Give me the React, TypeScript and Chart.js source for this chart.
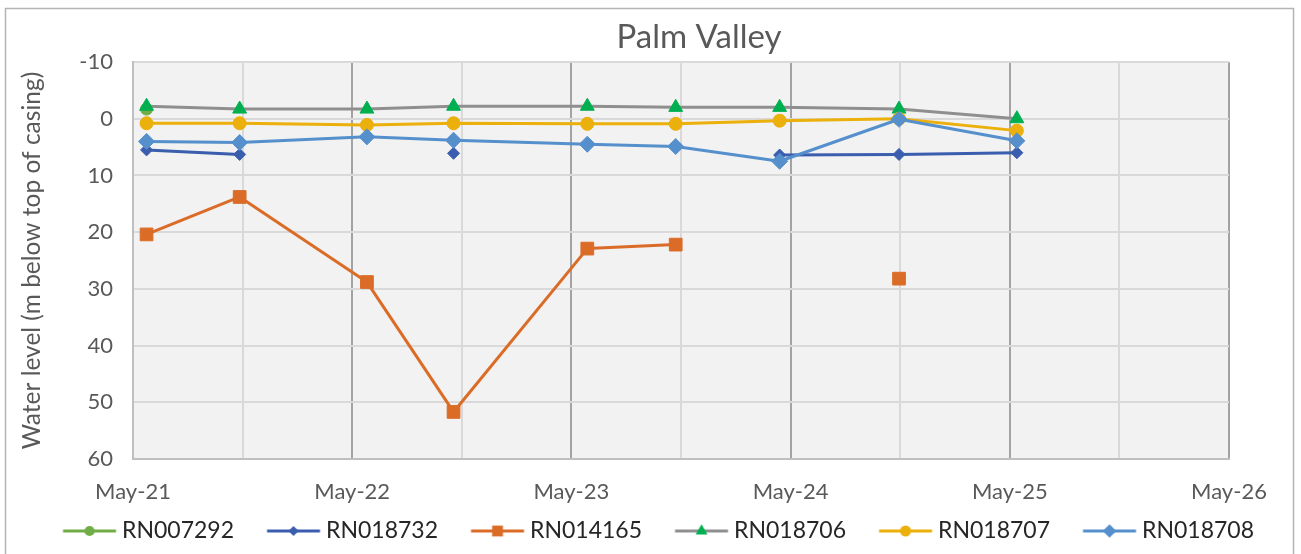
import React, { useEffect, useRef } from 'react';
import { Chart, registerables } from 'chart.js';

Chart.register(...registerables);
Chart.defaults.font.family = 'Lato, "Open Sans", sans-serif';

// ---- data ----
const sampleDates = [
  '2021-05-24', '2021-10-27', '2022-05-26', '2022-10-18', '2023-05-28',
  '2023-10-23', '2024-04-13', '2024-10-30', '2025-05-13',
];
const RN007292: (number | null)[] = [-1.7, null, null, null, null, null, null, null, null];
const RN018732: (number | null)[] = [5.5, 6.3, null, 6.1, null, null, 6.4, 6.3, 6.0];
const RN014165: (number | null)[] = [20.4, 13.8, 28.8, 51.7, 22.9, 22.2, null, 28.2, null];
const RN018706: (number | null)[] = [-2.2, -1.7, -1.7, -2.2, -2.2, -2.0, -2.0, -1.7, 0.0];
const RN018707: (number | null)[] = [0.8, 0.8, 1.1, 0.8, 0.9, 0.9, 0.35, 0.0, 2.1];
const RN018708: (number | null)[] = [4.0, 4.2, 3.2, 3.8, 4.5, 4.9, 7.5, 0.1, 3.9];
const xTickLabels = ['May-21', 'May-22', 'May-23', 'May-24', 'May-25', 'May-26'];
const yMin = -10;
const yMax = 60;
const yStep = 10;

// months since 1 May 2021 (start of the axis)
function toMonths(iso: string): number {
  const [y, m, d] = iso.split('-').map(Number);
  const dim = new Date(y, m, 0).getDate();
  return (y - 2021) * 12 + (m - 5) + (d - 1) / dim;
}
const sampleX = sampleDates.map(toMonths);

type Series = { label: string; values: (number | null)[]; line: string; marker: string; style: string; r: number };
const seriesList: Series[] = [
  { label: 'RN007292', values: RN007292, line: '#70AD47', marker: '#70AD47', style: 'circle', r: 6 },
  { label: 'RN018732', values: RN018732, line: '#3A5DAE', marker: '#3A5DAE', style: 'rectRot', r: 6 },
  { label: 'RN014165', values: RN014165, line: '#DB6C27', marker: '#DB6C27', style: 'rect', r: 9 },
  { label: 'RN018706', values: RN018706, line: '#8F8F8F', marker: '#00B050', style: 'triangle', r: 8 },
  { label: 'RN018707', values: RN018707, line: '#EBB00B', marker: '#EBB00B', style: 'circle', r: 6.5 },
  { label: 'RN018708', values: RN018708, line: '#5590CD', marker: '#5590CD', style: 'rectRot', r: 8 },
];

// ---- layout constants ----
const W = 1301;
const H = 554;
const TITLE_CX = 699;
const LEG_FONT = 23;
const LEG_PAD = 10;
const LEG_STRIDE = 204;
const LEG_LINE = 53;
const LEG_GAP = 6;
const LEG_FIRST_X = 63;
const LEG_CY = 531;

function drawMarker(g: CanvasRenderingContext2D, cx: number, cy: number, style: string, r: number, color: string) {
  g.fillStyle = color;
  g.beginPath();
  if (style === 'circle') {
    g.arc(cx, cy, r, 0, Math.PI * 2);
  } else if (style === 'rect') {
    const s = r * Math.SQRT1_2;
    g.rect(cx - s, cy - s, 2 * s, 2 * s);
  } else if (style === 'rectRot') {
    g.moveTo(cx, cy - r);
    g.lineTo(cx + r, cy);
    g.lineTo(cx, cy + r);
    g.lineTo(cx - r, cy);
    g.closePath();
  } else if (style === 'triangle') {
    g.moveTo(cx, cy - r);
    g.lineTo(cx + r * Math.sin((2 * Math.PI) / 3), cy + r / 2);
    g.lineTo(cx - r * Math.sin((2 * Math.PI) / 3), cy + r / 2);
    g.closePath();
  }
  g.fill();
}

function buildLegendImages(B: number) {
  const lineStartRel = B + LEG_FONT / 2 - LEG_GAP - LEG_LINE;
  const lineEndRel = lineStartRel + LEG_LINE;
  const half = Math.max(Math.abs(lineEndRel - B / 2), Math.abs(lineStartRel - B / 2)) + 2;
  const w = Math.ceil(half) * 2;
  return seriesList.map((s) => {
    const c = document.createElement('canvas');
    c.width = w;
    c.height = 22;
    const g = c.getContext('2d')!;
    const x0 = lineStartRel - B / 2 + w / 2;
    g.strokeStyle = s.line;
    g.lineWidth = 3;
    g.beginPath();
    g.moveTo(x0, 11);
    g.lineTo(x0 + LEG_LINE, 11);
    g.stroke();
    drawMarker(g, x0 + LEG_LINE / 2, 11, s.style, s.r * 0.85, s.marker);
    return c;
  });
}

export default function App() {
  const ref = useRef<HTMLCanvasElement>(null);

  useEffect(() => {
    const canvas = ref.current!;
    const mc = document.createElement('canvas').getContext('2d')!;
    mc.font = `${LEG_FONT}px Lato, "Open Sans", sans-serif`;
    const textW = mc.measureText(seriesList[0].label).width;
    const B = LEG_STRIDE - LEG_FONT / 2 - textW - LEG_PAD;
    const legendImages = buildLegendImages(B);

    const bgPlugin = {
      id: 'bgPlugin',
      beforeDraw(chart: any) {
        const { ctx, chartArea } = chart;
        ctx.save();
        ctx.fillStyle = '#FFFFFF';
        ctx.fillRect(0, 0, W, H);
        ctx.strokeStyle = '#B4B4B4';
        ctx.lineWidth = 1.5;
        ctx.strokeRect(5.5, 8.5, 1288, H + 10);
        ctx.fillStyle = '#F2F2F2';
        ctx.fillRect(chartArea.left, chartArea.top, chartArea.right - chartArea.left, chartArea.bottom - chartArea.top);
        ctx.restore();
      },
    };

    const shiftPlugin = {
      id: 'shiftPlugin',
      afterLayout(chart: any) {
        const t = chart.titleBlock;
        if (t) {
          const w = t.right - t.left;
          t.left = TITLE_CX - w / 2;
          t.right = TITLE_CX + w / 2;
        }
        const l = chart.legend;
        if (l && l.lineWidths) {
          const rowStartNow = (l.left + LEG_PAD + l.right - l.lineWidths[0]) / 2;
          const target = LEG_FIRST_X - (B + LEG_FONT / 2 - LEG_GAP - LEG_LINE);
          const d = target - rowStartNow;
          l.left += d;
          l.right += d;
          const h = l.height;
          l.top = LEG_CY - LEG_PAD - LEG_FONT / 2;
          l.bottom = l.top + h;
        }
      },
    };

    const datasets = seriesList.map((s, i) => ({
      label: s.label,
      data: sampleX.map((x, k) => ({ x, y: s.values[k] })),
      borderColor: s.line,
      backgroundColor: s.marker,
      pointBackgroundColor: s.marker,
      pointBorderColor: s.marker,
      pointStyle: s.style,
      pointRadius: s.r,
      pointBorderWidth: 1,
      borderWidth: 3,
      borderJoinStyle: 'round',
      borderCapStyle: 'round',
      spanGaps: false,
      order: -i,
    }));

    const chart = new Chart(canvas, {
      type: 'line',
      data: { datasets } as any,
      plugins: [bgPlugin, shiftPlugin],
      options: {
        responsive: false,
        animation: false,
        events: [],
        layout: { padding: { left: 8, right: 8, top: 0, bottom: 0 } },
        plugins: {
          tooltip: { enabled: false },
          title: {
            display: true,
            text: 'Palm Valley',
            color: '#595959',
            font: { size: 33, weight: 'normal' },
            padding: { top: 17.2, bottom: 5.2 },
          },
          legend: {
            display: true,
            position: 'bottom',
            labels: {
              usePointStyle: true,
              pointStyleWidth: B,
              padding: LEG_PAD,
              color: '#262626',
              font: { size: LEG_FONT },
              generateLabels: (ch: any) =>
                ch.data.datasets.map((ds: any, i: number) => ({
                  text: ds.label,
                  fillStyle: ds.borderColor,
                  strokeStyle: ds.borderColor,
                  lineWidth: 0,
                  pointStyle: legendImages[i],
                  rotation: 0,
                  hidden: false,
                  datasetIndex: i,
                  fontColor: '#262626',
                })),
            },
          },
        },
        scales: {
          x: {
            type: 'linear',
            min: 0,
            max: (xTickLabels.length - 1) * 12,
            afterFit: (s: any) => { s.height = 52; },
            ticks: {
              stepSize: 6,
              autoSkip: false,
              maxRotation: 0,
              padding: 19.8,
              color: '#595959',
              font: { size: 22 },
              callback: (v: any) => (Number(v) % 12 === 0 ? xTickLabels[Number(v) / 12] : ''),
            },
            grid: {
              drawTicks: false,
              lineWidth: 2,
              color: (c: any) => {
                const v = c.tick ? c.tick.value : 1;
                if (v === 0) return '#BFBFBF';
                return v % 12 === 0 ? '#A3A3A3' : '#D9D9D9';
              },
            },
            border: { color: '#BFBFBF', width: 2 },
          },
          y: {
            type: 'linear',
            reverse: true,
            min: yMin,
            max: yMax,
            afterFit: (s: any) => { s.width = 125; },
            ticks: {
              stepSize: yStep,
              padding: 20,
              color: '#595959',
              font: { size: 22 },
            },
            grid: {
              drawTicks: false,
              lineWidth: 2,
              color: (c: any) => (c.tick && c.tick.value === yMax ? '#BFBFBF' : '#D9D9D9'),
            },
            border: { color: '#BFBFBF', width: 2 },
            title: {
              display: true,
              text: 'Water level (m below top of casing)',
              color: '#595959',
              font: { size: 24.5 },
              padding: { top: 9, bottom: 0 },
            },
          },
          yRight: {
            type: 'linear',
            position: 'right',
            display: true,
            afterFit: (s: any) => { s.width = 64; },
            ticks: { display: false },
            grid: { display: false, drawTicks: false },
            border: { display: false },
          },
        },
      } as any,
    });
    return () => chart.destroy();
  }, []);

  return (
    <div style={{ position: 'absolute', left: 0, top: 0, width: W, height: H }}>
      <canvas ref={ref} width={W} height={H} style={{ display: 'block' }} />
    </div>
  );
}
